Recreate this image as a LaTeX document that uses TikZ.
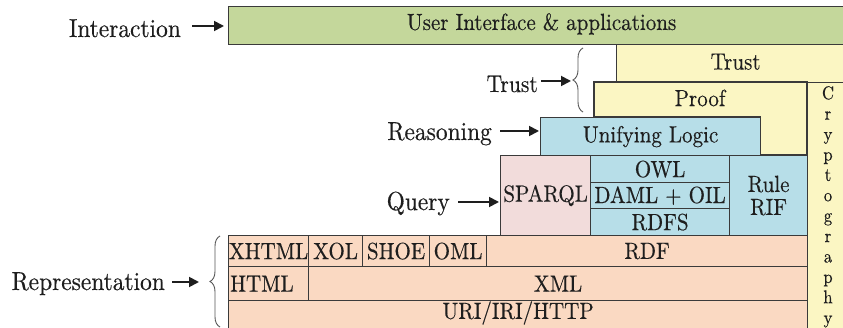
\documentclass[tikz,border=0pt]{standalone}
\usepackage{fontspec}
\setmainfont{lmroman10-regular.otf}[FakeStretch=0.9, FakeBold=0.35]
\usetikzlibrary{arrows.meta,decorations.pathreplacing,calc}

\definecolor{ink}{HTML}{1E1E1E}
\definecolor{edge}{HTML}{3A3A3A}
\definecolor{uigreen}{HTML}{C4D79B}
\definecolor{trustyel}{HTML}{FBF6C3}
\definecolor{logicblue}{HTML}{B7DEE8}
\definecolor{querypink}{HTML}{F2DCDB}
\definecolor{reppeach}{HTML}{FAD9C2}

\newcommand\boxfont{\fontsize{23.4}{26}\selectfont}
\newcommand\lblfont{\fontsize{26}{29}\selectfont}

\begin{document}
\begin{tikzpicture}[x=1pt,y=-1pt,
  layer/.style={draw=edge, line width=1.2pt, inner sep=0pt, anchor=north west,
                font=\boxfont, text=ink},
  boxtext/.style={font=\boxfont, text=ink, inner sep=0pt},
  lbl/.style={font=\lblfont, text=ink, anchor=base east, inner sep=0pt},
  pointer/.style={draw=ink, line width=1.8pt, -{Triangle[length=10pt,width=10pt]}},
  curly/.style={draw=ink!75, line width=0.9pt, decorate,
                decoration={brace, amplitude=10pt}}]

\useasboundingbox (0,0) rectangle (843,328);
\fill[white] (0,0) rectangle (843,328);
\clip (0,0) rectangle (843,328);

% ---- top layers ----
\node[layer, fill=uigreen, minimum width=626, minimum height=38, text depth=8pt] (ui)
  at (228,6) {User Interface \& applications};
\node[layer, fill=trustyel, minimum width=238, minimum height=38, text depth=4pt] (trust)
  at (616,44) {Trust};

% Proof block (wraps round the right end of Unifying Logic)
\path[draw=edge, line width=1.2pt, fill=trustyel]
  (594,82) -- (807,82) -- (807,155) -- (760,155) -- (760,117) -- (594,117) -- cycle;
\node[boxtext] (proof) at (700,98) {Proof};

% Cryptography column
\node[layer, fill=trustyel, minimum width=60, minimum height=260] (crypto) at (807,82) {};
\node[font=\fontsize{18.5}{20.4}\selectfont, text=ink, align=center, anchor=north,
      inner sep=0pt] (cryptotext) at (828,86)
  {C\\r\\y\\p\\t\\o\\g\\r\\a\\p\\h\\y};

% ---- logic and query layers ----
\node[layer, fill=logicblue, minimum width=220, minimum height=38] (logic)
  at (540,117) {Unifying Logic};
\node[layer, fill=querypink, minimum width=90, minimum height=80] (sparql)
  at (500,155) {SPARQL};
\node[layer, fill=logicblue, minimum width=139, minimum height=27] (owl)
  at (590,155) {OWL};
\node[layer, fill=logicblue, minimum width=139, minimum height=26] (daml)
  at (590,182) {DAML + OIL};
\node[layer, fill=logicblue, minimum width=139, minimum height=27] (rdfs)
  at (590,208) {RDFS};
\node[layer, fill=logicblue, minimum width=78, minimum height=80, align=center,
      font=\fontsize{23.4}{23}\selectfont] (rif)
  at (729,155) {Rule\\RIF};

% ---- representation layers ----
\node[layer, fill=reppeach, minimum width=80, minimum height=31] (xhtml) at (228,235) {XHTML};
\node[layer, fill=reppeach, minimum width=54, minimum height=31] (xol) at (308,235) {XOL};
\node[layer, fill=reppeach, minimum width=67, minimum height=31] (shoe) at (362,235) {SHOE};
\node[layer, fill=reppeach, minimum width=57, minimum height=31] (oml) at (429,235) {OML};
\node[layer, fill=reppeach, minimum width=321, minimum height=31] (rdf) at (486,235) {RDF};

\node[layer, fill=reppeach, minimum width=80, minimum height=34] (html) at (228,266) {};
\node[boxtext, anchor=west] (htmltext) at ([xshift=2pt]html.west) {HTML};
\node[layer, fill=reppeach, minimum width=499, minimum height=34] (xml) at (308,266) {XML};

\node[layer, fill=reppeach, minimum width=579, minimum height=44] (uri) at (228,300) {};
\node[boxtext] (uritext) at ($(uri.north)+(0,13)$) {URI/IRI/HTTP};

% ---- side labels ----
\node[lbl] (interaction) at (181,37) {Interaction};
\node[lbl, font=\fontsize{24}{27}\selectfont] (trustlbl) at (538,92) {Trust};
\node[lbl] (reasoning) at (492,140) {Reasoning};
\node[lbl] (query) at (450,210) {Query};
\node[lbl] (representation) at (165,290) {Representation};

% braces
\draw[curly] (583,112) -- (583,48);
\coordinate (trusttip) at (571,81);
\draw[curly] (220,327) -- (220,236);
\coordinate (reptip) at (206,282);

% pointers
\draw[pointer] ([xshift=11pt]interaction.east |- 0,26) -- ([xshift=-4pt]ui.west |- 0,26);
\draw[pointer] ([xshift=3pt]trustlbl.east |- trusttip) -- (trusttip);
\draw[pointer] ([xshift=8pt]reasoning.east |- 0,131) -- ([xshift=-1pt]logic.west |- 0,131);
\draw[pointer] ([xshift=8pt]query.east |- 0,202) -- ([xshift=-1pt]sparql.west |- 0,202);
\draw[pointer] ([xshift=7pt]representation.east |- reptip) -- ([xshift=-7pt]reptip);

\end{tikzpicture}
\end{document}
